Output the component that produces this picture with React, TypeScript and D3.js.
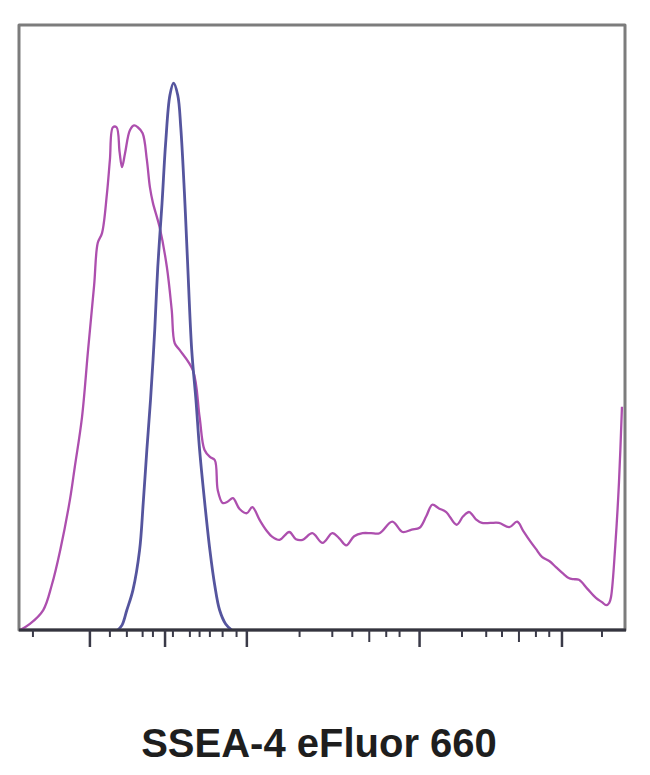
import { curveCatmullRom, line, scaleLinear } from "d3";
import type { ReactElement } from "react";

type Pt = readonly [number, number];

// channel (0-1000) vs. count (% of max)
const ssea4Stained: ReadonlyArray<Pt> = [
  [2, 0], [18, 1], [40, 3.3], [54, 7.4], [68, 13.2], [84, 21.5], [92, 26.9], [104, 35.2], [114, 46.3],
  [124, 57], [130, 64], [137, 65.6], [145, 72], [150, 77.7], [155, 83.1], [161, 83.1], [166, 79],
  [170, 76.5], [175, 78.8], [183, 82.6], [190, 83.4], [196, 83.1], [204, 82.1], [211, 77.7],
  [216, 73.2], [221, 70.6], [232, 66.6], [244, 60], [252, 52.9], [257, 47.4], [265, 46.3],
  [287, 42.9], [298, 35.2], [306, 29.8], [315, 28.6], [323, 28.1], [328, 23.1], [336, 21],
  [344, 21.2], [353, 21.8], [364, 20], [376, 19.3], [385, 20.3], [397, 18.2], [408, 16.5],
  [418, 15.4], [430, 14.9], [446, 16.2], [457, 15], [468, 14.9], [484, 16], [501, 14.4],
  [517, 16], [528, 15.2], [540, 14], [553, 15.5], [567, 16], [581, 16], [595, 16], [616, 17.9],
  [633, 16.2], [648, 16.6], [661, 16.9], [672, 18.8], [682, 20.7], [693, 20.1], [705, 19.5],
  [722, 17.4], [733, 18.8], [743, 19.5], [754, 18.3], [764, 17.7], [778, 17.7], [792, 17.7],
  [809, 17], [822, 17.9], [832, 16.4], [842, 14.9], [853, 13.4], [863, 12.1], [875, 11.4],
  [886, 10.4], [897, 9.4], [907, 8.6], [915, 8.4], [924, 8.3], [938, 6.8], [952, 5.3],
  [962, 4.6], [969, 4.1], [974, 4.5], [977, 5.5], [984, 14], [990, 24.3], [995, 36.9],
];

const isotypeControl: ReadonlyArray<Pt> = [
  [163, 0], [170, 0.8], [178, 3.3], [188, 6.6], [199, 13.2], [205, 21], [211, 29.8],
  [217, 38], [224, 49.6], [229, 60], [236, 70.5], [242, 80.5], [249, 88.4], [255, 90.4],
  [262, 88.4], [267, 83], [273, 72.2], [278, 61.2], [285, 46.3], [292, 38], [298, 29.8],
  [306, 21.5], [315, 13.2], [323, 7.4], [331, 3.3], [341, 1], [351, 0],
];

const majorTicks = [117, 241, 376, 661, 896];
const mediumTicks = [578, 825];
const minorTicks = [
  23, 150, 178, 204, 221, 254, 282, 298, 315, 336, 359, 463, 517, 550, 606, 628,
  731, 771, 797, 853, 875, 962,
];

const axisTitle = "SSEA-4 eFluor 660";

export default function App(): ReactElement {
  const width = 650;
  const height = 775;
  const plot = { left: 19, right: 625, top: 25, bottom: 630 } as const;

  const x = scaleLinear().domain([0, 1000]).range([plot.left, plot.right]);
  const y = scaleLinear().domain([0, 100]).range([plot.bottom, plot.top]);

  const path = line<Pt>()
    .x((d) => x(d[0]))
    .y((d) => y(d[1]))
    .curve(curveCatmullRom.alpha(0.5));

  const stainedPath = path(ssea4Stained as Pt[]) ?? "";
  const controlPath = path(isotypeControl as Pt[]) ?? "";

  const tick = (v: number, len: number, key: string, w: number) => (
    <line
      key={key}
      x1={x(v)}
      x2={x(v)}
      y1={plot.bottom}
      y2={plot.bottom + len}
      stroke="#3a3a48"
      strokeWidth={w}
    />
  );

  return (
    <svg
      width={width}
      height={height}
      viewBox={`0 0 ${width} ${height}`}
      style={{ position: "absolute", left: 0, top: 0, background: "#fff" }}
    >
      <rect
        x={plot.left}
        y={plot.top}
        width={plot.right - plot.left}
        height={plot.bottom - plot.top}
        fill="#fff"
        stroke="#7c7c7c"
        strokeWidth={3}
        strokeLinejoin="round"
      />

      <path d={stainedPath} fill="none" stroke="#ad4fae" strokeWidth={2.3} strokeLinejoin="round" />
      <path d={controlPath} fill="none" stroke="#55559e" strokeWidth={2.8} strokeLinejoin="round" />

      <line x1={plot.left} x2={plot.right + 1} y1={plot.bottom} y2={plot.bottom} stroke="#34343f" strokeWidth={3} />

      {minorTicks.map((v) => tick(v, 7, `mi-${v}`, 2))}
      {mediumTicks.map((v) => tick(v, 12, `me-${v}`, 2))}
      {majorTicks.map((v) => tick(v, 17, `ma-${v}`, 2.5))}

      <text
        x={319}
        y={757}
        textAnchor="middle"
        fontFamily="'Liberation Sans', Arial, sans-serif"
        fontWeight="bold"
        fontSize={40}
        fill="#1e1e1e"
      >
        {axisTitle}
      </text>
    </svg>
  );
}
